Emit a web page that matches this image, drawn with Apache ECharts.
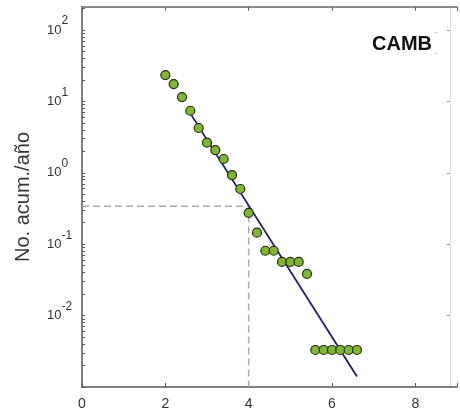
<!DOCTYPE html>
<html>
<head>
<meta charset="utf-8">
<script src="https://cdn.jsdelivr.net/npm/echarts@6/dist/echarts.min.js"></script>
<style>
  html, body { margin: 0; padding: 0; background: #fff; }
  #chart { width: 460px; height: 415px; }
</style>
</head>
<body>
<div id="chart"></div>
<script>
// Cumulative number of events per year versus magnitude (CAMB)
const magnitudes = [2.0, 2.2, 2.4, 2.6, 2.8, 3.0, 3.2, 3.4, 3.6, 3.8, 4.0, 4.2, 4.4, 4.6, 4.8, 5.0, 5.2, 5.4, 5.6, 5.8, 6.0, 6.2, 6.4, 6.6];
const cumulativeRate = [23.4, 17.5, 11.5, 7.4, 4.24, 2.64, 2.08, 1.56, 0.93, 0.593, 0.274, 0.145, 0.081, 0.081, 0.0564, 0.0564, 0.0564, 0.0383, 0.0033, 0.0033, 0.0033, 0.0033, 0.0033, 0.0033];

// Fitted Gutenberg-Richter line (end points)
const fitMagnitudes = [2.6, 6.6];
const fitRates = [6.8, 0.0014];

// Reading guide at M = 4
const guideMagnitude = 4;
const guideRate = 0.34;

const xTicks = [0, 2, 4, 6, 8];
const yMajorTicks = [0.01, 0.1, 1, 10, 100];
const yExponents = { '0.01': '-2', '0.1': '-1', '1': '0', '10': '1', '100': '2' };

// Tick marks at 1..9 x 10^k inside the axis range
const yAllTicks = [];
[0.001, 0.01, 0.1, 1, 10, 100].forEach(function (d) {
  for (let k = 1; k <= 9; k++) {
    const v = +(d * k).toPrecision(3);
    if (v <= 200) yAllTicks.push(v);
  }
});

const FONT = 'Liberation Sans, Arial, sans-serif';
const chart = echarts.init(document.getElementById('chart'), null, { renderer: 'canvas' });

const logCommon = { type: 'log', logBase: 10, min: 0.001, max: 210, splitLine: { show: false } };

chart.setOption({
  animation: false,
  backgroundColor: '#ffffff',
  grid: { left: 82, top: 7, width: 381, height: 380, containLabel: false },
  xAxis: [
    {
      type: 'value', position: 'bottom', min: 0, max: 9, interval: 2,
      axisLine: { onZero: false, lineStyle: { color: '#555', width: 1.5 } },
      axisTick: { inside: true, length: 4, lineStyle: { color: '#555' } },
      axisLabel: { color: '#333', fontFamily: FONT, fontSize: 14, margin: 10,
        formatter: function (v) { return xTicks.indexOf(v) >= 0 ? String(v) : ''; } },
      splitLine: { show: false }
    },
    {
      type: 'value', position: 'top', min: 0, max: 9, interval: 2,
      axisLine: { onZero: false, lineStyle: { color: '#666', width: 1.5 } },
      axisTick: { inside: true, length: 4, lineStyle: { color: '#666' } },
      axisLabel: { show: false },
      splitLine: { show: false }
    }
  ],
  yAxis: [
    Object.assign({}, logCommon, {
      position: 'left',
      name: 'No. acum./año',
      nameLocation: 'middle',
      nameGap: 49,
      nameRotate: 90,
      nameTextStyle: { color: '#333', fontFamily: FONT, fontSize: 20 },
      axisLine: { onZero: false, lineStyle: { color: '#555', width: 1.5 } },
      axisTick: { inside: true, length: 3, lineStyle: { color: '#555' }, customValues: yAllTicks },
      axisLabel: {
        customValues: yMajorTicks,
        align: 'left',
        margin: 35,
        formatter: function (v) {
          const e = yExponents[String(+v.toPrecision(3))];
          return e === undefined ? '' : '{b|10}{e|' + e + '}';
        },
        rich: {
          b: { color: '#333', fontFamily: FONT, fontSize: 13 },
          e: { color: '#333', fontFamily: FONT, fontSize: 12, padding: [0, 0, 18, 0] }
        }
      }
    }),
    Object.assign({}, logCommon, {
      position: 'right',
      offset: -7,
      axisLine: { onZero: false, lineStyle: { color: '#d8d8d8', width: 1, type: 'dotted' } },
      axisTick: { inside: true, length: 3, lineStyle: { color: '#999' }, customValues: yMajorTicks },
      axisLabel: { show: false }
    })
  ],
  graphic: [
    { type: 'text', left: 372, top: 34, style: { text: 'CAMB', font: 'bold 20px ' + FONT, fill: '#111' } },
    { type: 'text', left: 435, top: 28, style: { text: '-', font: '8px ' + FONT, fill: '#888' } },
    { type: 'text', left: 435, top: 49, style: { text: '-', font: '8px ' + FONT, fill: '#888' } }
  ],
  series: [
    {
      type: 'line',
      xAxisIndex: 0, yAxisIndex: 0,
      data: [[0, guideRate], [guideMagnitude, guideRate], [guideMagnitude, 0.001]],
      showSymbol: false, symbol: 'none',
      lineStyle: { color: '#aaaaaa', width: 1.5, type: [7, 4] },
      z: 1
    },
    {
      type: 'line',
      xAxisIndex: 0, yAxisIndex: 0,
      data: fitMagnitudes.map(function (m, i) { return [m, fitRates[i]]; }),
      showSymbol: false, symbol: 'none',
      lineStyle: { color: '#1c1c78', width: 1.8 },
      z: 2
    },
    {
      type: 'scatter',
      xAxisIndex: 0, yAxisIndex: 0,
      data: magnitudes.map(function (m, i) { return [m, cumulativeRate[i]]; }),
      symbol: 'circle', symbolSize: 9,
      itemStyle: { color: '#82b536', borderColor: '#22300c', borderWidth: 1.2, opacity: 1 },
      z: 3
    }
  ]
});
</script>
</body>
</html>
